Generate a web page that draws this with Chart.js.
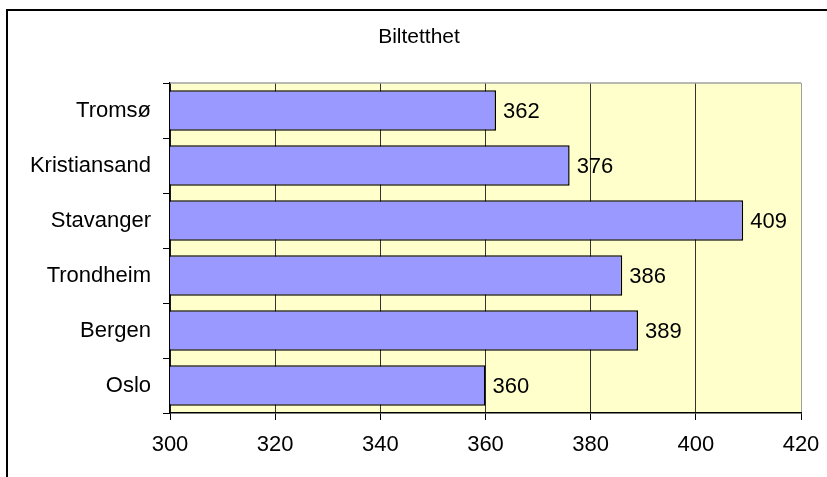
<!DOCTYPE html>
<html>
<head>
<meta charset="utf-8">
<style>
  html, body { margin: 0; padding: 0; background: #fff; }
  #wrap { width: 827px; height: 477px; }
</style>
<script src="https://cdn.jsdelivr.net/npm/chart.js@4/dist/chart.umd.min.js"></script>
</head>
<body>
<div id="wrap"><canvas id="c" width="827" height="477"></canvas></div>
<script>
// Car density (cars per 1000 inhabitants) by city
const cities = ['Tromsø', 'Kristiansand', 'Stavanger', 'Trondheim', 'Bergen', 'Oslo'];
const carDensity = [362, 376, 409, 386, 389, 360];
const xTickValues = [300, 320, 340, 360, 380, 400, 420];
const chartTitle = 'Biltetthet';

const FONT = '"Liberation Sans", Arial, sans-serif';
const FONT_SIZE = 22;
const TITLE_SIZE = 21;

// White page with the outer frame lines, the title, then the pale-yellow plot area
const backdrop = {
  id: 'backdrop',
  beforeDraw(chart) {
    const { ctx, chartArea: a } = chart;
    ctx.save();
    ctx.fillStyle = '#ffffff';
    ctx.fillRect(0, 0, chart.width, chart.height);
    ctx.strokeStyle = '#000';
    ctx.lineWidth = 2;
    ctx.beginPath();
    ctx.moveTo(7, chart.height);
    ctx.lineTo(7, 10);
    ctx.lineTo(chart.width, 10);
    ctx.stroke();
    ctx.fillStyle = '#000';
    ctx.font = TITLE_SIZE + 'px ' + FONT;
    ctx.textAlign = 'center';
    ctx.textBaseline = 'middle';
    ctx.fillText(chartTitle, 419, 37);
    ctx.fillStyle = '#FFFFCC';
    ctx.fillRect(a.left, a.top, a.right - a.left, a.bottom - a.top);
    ctx.restore();
  },
  beforeDatasetsDraw(chart) {
    const { ctx, chartArea: a } = chart;
    ctx.save();
    ctx.strokeStyle = '#a0a0a0';
    ctx.lineWidth = 1.5;
    ctx.beginPath();
    ctx.moveTo(a.left, a.top);
    ctx.lineTo(a.right, a.top);
    ctx.stroke();
    ctx.restore();
  }
};

// Value labels to the right of each bar
const valueLabels = {
  id: 'valueLabels',
  afterDatasetsDraw(chart) {
    const { ctx } = chart;
    const meta = chart.getDatasetMeta(0);
    ctx.save();
    ctx.font = FONT_SIZE + 'px ' + FONT;
    ctx.fillStyle = '#000';
    ctx.textAlign = 'left';
    ctx.textBaseline = 'middle';
    meta.data.forEach((bar, i) => {
      ctx.fillText(String(carDensity[i]), bar.x + 7, bar.y + 1);
    });
    ctx.restore();
  }
};

new Chart(document.getElementById('c'), {
  type: 'bar',
  data: {
    labels: cities,
    datasets: [{
      data: carDensity,
      backgroundColor: '#9999FF',
      borderColor: '#000000',
      borderWidth: 1.5,
      borderSkipped: false,
      categoryPercentage: 1,
      barPercentage: 0.74
    }]
  },
  options: {
    indexAxis: 'y',
    responsive: false,
    animation: false,
    devicePixelRatio: 1,
    layout: { padding: { left: 0, right: 26, top: 83, bottom: 0 } },
    plugins: {
      legend: { display: false },
      tooltip: { enabled: false },
      title: { display: false }
    },
    scales: {
      x: {
        type: 'linear',
        min: 300,
        max: 420,
        afterBuildTicks(scale) {
          scale.ticks = xTickValues.map(v => ({ value: v }));
        },
        afterFit(scale) {
          scale.height = 64;
          scale.paddingLeft = 0;
          scale.paddingRight = 0;
        },
        grid: {
          color: ctx => (ctx.tick && ctx.tick.value === 420) ? '#a0a0a0' : '#333333',
          lineWidth: 1,
          tickColor: '#000',
          tickLength: 7
        },
        border: { color: '#000', width: 1.5 },
        ticks: {
          color: '#000',
          padding: 12,
          maxRotation: 0,
          font: { family: FONT, size: FONT_SIZE }
        }
      },
      y: {
        afterFit(scale) {
          scale.width = 170;
          scale.paddingTop = 0;
          scale.paddingBottom = 0;
        },
        grid: {
          drawOnChartArea: false,
          color: '#000',
          tickColor: '#000',
          tickLength: 7,
          offset: true
        },
        border: { color: '#000', width: 1.5 },
        ticks: {
          color: '#000',
          padding: 12,
          font: { family: FONT, size: FONT_SIZE }
        }
      }
    }
  },
  plugins: [backdrop, valueLabels]
});
</script>
</body>
</html>
